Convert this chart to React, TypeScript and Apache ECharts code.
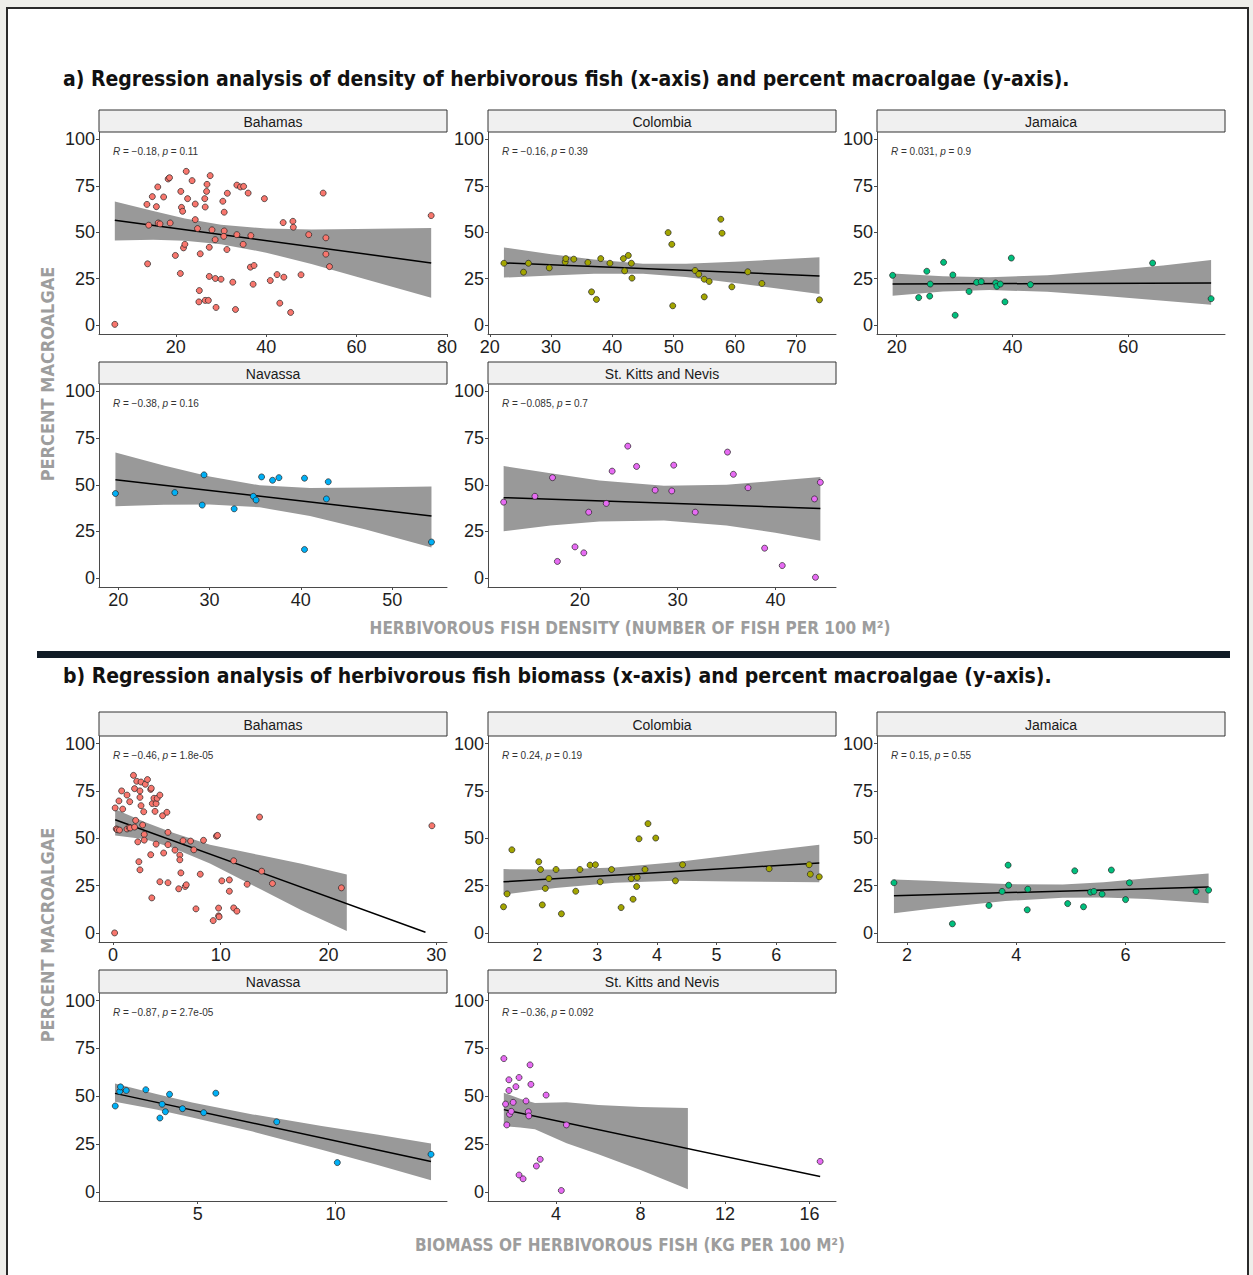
import React, { useEffect, useRef } from "react";
import * as echarts from "echarts";

const W = 1253;
const H = 1275;

const COUNTRIES = ["Bahamas", "Colombia", "Jamaica", "Navassa", "St. Kitts and Nevis"];
const COLORS = ["#F8766D", "#A3A500", "#00BF7D", "#00B0F6", "#E76BF3"];
const Y_TICKS = [0, 25, 50, 75, 100];
const Y_RANGE = [-4.8, 104];

const TITLE_A = "a) Regression analysis of density of herbivorous fish (x-axis) and percent macroalgae (y-axis).";
const TITLE_B = "b) Regression analysis of herbivorous fish biomass (x-axis) and percent macroalgae (y-axis).";
const XTITLE_A = "HERBIVOROUS FISH DENSITY (NUMBER OF FISH PER 100 M²)";
const XTITLE_B = "BIOMASS OF HERBIVOROUS FISH (KG PER 100 M²)";
const YTITLE = "PERCENT MACROALGAE";

// ---------- a) density ----------
const aBahamas = [[6.5,0.4],[13.6,65],[14.0,53.8],[13.75,33],[14.8,69.2],[16.0,74.4],[15.7,63.8],[16.1,55],[16.5,54.5],[17.3,69],[18.3,78.7],[18.6,79.4],[18.75,55],[19.9,37.5],[21.0,27.8],[21.1,72],[21.25,63.4],[21.5,61.3],[21.7,41.6],[22.0,43.5],[22.3,82.8],[22.6,68.1],[23.6,77.8],[24.3,65.2],[24.3,56.8],[24.8,52],[25.4,38.4],[25.2,18.6],[25.1,12.5],[26.5,13.3],[27.2,13.3],[26.4,68.1],[26.5,63.6],[26.8,72],[26.9,75.8],[27.4,41.9],[27.4,26.2],[27.6,80.5],[28.0,51.3],[28.7,46],[28.75,25.1],[28.9,9.5],[30.0,24.7],[30.4,66.7],[30.7,60.8],[30.7,50.7],[30.6,47.8],[31.4,71],[31.3,40.7],[32.6,23.1],[33.2,8.4],[33.5,75.4],[33.5,48.7],[34.3,74.4],[35.0,74.7],[34.9,43.5],[36.0,71.1],[36.5,31.2],[36.6,48.2],[37.3,32.1],[37.1,22],[39.6,68.1],[40.9,24],[42.4,27.2],[43.0,11.8],[43.75,55.2],[43.9,25.8],[45.4,6.8],[45.9,55.9],[46.0,52.7],[47.7,27.1],[49.4,48.7],[52.6,71.1],[53.2,47],[53.2,38.2],[54.0,31.5],[76.5,59]];
const aColombia = [[22.3,33.3],[25.5,28.5],[26.3,33.3],[29.7,30.8],[32.3,34],[32.4,35.8],[33.7,35.5],[36,33.7],[36.6,17.9],[37.4,13.8],[38.1,35.8],[39.6,33.3],[41.8,35.8],[42,29.2],[42.6,37.5],[43.1,33.3],[43.2,25.3],[49.1,49.8],[49.7,43.5],[49.85,10.4],[53.5,29.4],[54.1,27.4],[55,24.7],[55,15.2],[55.8,23.5],[57.7,57],[57.9,49.5],[59.5,20.6],[62.1,28.7],[64.4,22.4],[73.8,13.6]];
const aJamaica = [[19.3,26.8],[23.8,14.8],[25.2,29],[25.8,22.1],[25.7,15.6],[28.1,33.8],[29.7,27.0],[30.1,5.3],[32.5,18.1],[33.8,23.0],[34.6,23.4],[37.1,22.7],[37.3,20.9],[37.9,22.1],[38.7,12.5],[39.8,36.1],[43.1,21.8],[64.2,33.4],[74.3,14.2]];
const aNavassa = [[19.7,45.3],[26.2,45.8],[29.4,55.3],[29.2,39.1],[32.7,37.1],[34.8,43.8],[35.1,41.8],[35.7,54.2],[36.9,52.4],[37.6,53.8],[40.4,53.5],[40.4,15.3],[42.8,42.4],[43.0,51.6],[54.3,19.3]];
const aStKitts = [[12.2,40.7],[15.4,43.8],[17.2,53.8],[17.7,8.9],[19.5,16.7],[20.4,13.5],[20.9,35.3],[22.7,40.0],[23.3,57.3],[24.9,70.7],[25.8,59.8],[27.7,47.1],[29.4,46.7],[29.6,60.5],[31.8,35.3],[35.1,67.5],[35.7,55.6],[37.2,48.4],[38.9,16.0],[40.7,6.7],[44.0,42.4],[44.1,0.4],[44.6,51.3]];

const aBahamasLine = [[6.5,56.5],[76.5,33.5]];
const aColombiaLine = [[22.3,33.5],[73.8,26.5]];
const aJamaicaLine = [[19.3,22.1],[74.3,22.7]];
const aNavassaLine = [[19.7,52.7],[54.3,33.3]];
const aStKittsLine = [[12.2,43.1],[44.6,37.3]];

// [x, lower, upper]
const aBahamasBand = [[6.5,45.5,66.5],[15,45.9,61.5],[22,45.4,57.4],[30,43.6,54.0],[40,39.0,52.0],[50,32.9,51.5],[60,26.1,51.7],[76.5,14.7,52.3]];
const aColombiaBand = [[22.3,25.6,41.8],[30,26.7,38.2],[37,27.7,35.3],[45,27.7,33.1],[52,25.9,33.1],[60,22.7,34.1],[73.8,16.8,36.6]];
const aJamaicaBand = [[19.3,15.8,27.8],[28,18.1,26.3],[36,18.9,25.7],[46,17.9,26.9],[56,15.7,29.3],[66,13.1,32.1],[74.3,10.9,35.0]];
const aNavassaBand = [[19.7,38.5,67.3],[25,39.3,60.3],[30,39.4,54.4],[35.5,37.9,49.7],[41,33.2,48.2],[47,26.1,48.5],[54.3,16.4,49.1]];
const aStKittsBand = [[12.2,25.1,60.0],[17,28.2,56.2],[22,30.3,52.3],[28.6,30.9,49.5],[35,28.2,50.0],[40,24.3,52.1],[44.6,20.0,54.2]];

const aRanges = [[3.0,80],[19.7,76.5],[16.6,76.7],[17.9,56.0],[10.6,46.2]];
const aTicks = [[20,40,60,80],[20,30,40,50,60,70],[20,40,60],[20,30,40,50],[20,30,40]];
const aStats = [["−0.18","0.11"],["−0.16","0.39"],["0.031","0.9"],["−0.38","0.16"],["−0.085","0.7"]];

// ---------- b) biomass ----------
const bBahamas = [[0.15,0],[0.2,66.0],[0.3,54.9],[0.4,54.5],[0.55,69.7],[0.6,54.3],[0.8,75.0],[0.9,65.4],[1.3,72.8],[1.3,54.9],[1.5,55.6],[1.55,69.3],[1.6,55.4],[1.9,83.2],[2.0,76.2],[2.1,59.4],[2.0,55.9],[2.2,80.1],[2.3,48.1],[2.4,37.6],[2.5,75.0],[2.5,71.6],[2.5,33.3],[2.6,79.7],[2.6,67.2],[2.75,57.0],[2.85,64.0],[2.9,52.0],[2.9,49.0],[3.0,78.5],[3.2,81.0],[3.5,41.3],[3.5,75.8],[3.55,76.4],[3.65,68.3],[3.6,18.5],[3.8,71.1],[3.9,64.2],[4.0,68.3],[4.0,46.9],[4.1,71.1],[4.35,72.8],[4.35,27.0],[4.6,61.9],[4.7,42.2],[5.0,63.7],[5.1,46.6],[5.1,53.1],[5.1,26.5],[5.75,43.7],[6.1,23.3],[6.2,41.1],[6.2,38.6],[6.3,31.7],[6.5,48.7],[6.7,24.5],[6.8,25.4],[7.2,48.5],[7.5,43.9],[7.7,12.7],[8.1,31.0],[8.4,48.9],[9.3,6.5],[9.6,51.1],[9.7,51.5],[9.8,13.1],[9.8,9.0],[9.85,8.5],[10.1,27.5],[10.8,22.0],[10.8,28.0],[11.2,38.1],[11.2,13.2],[11.5,11.5],[12.45,25.7],[13.6,61.2],[13.8,32.6],[14.8,26.1],[21.2,23.8],[29.6,56.6]];
const bColombia = [[1.43,13.8],[1.49,20.6],[1.57,43.9],[2.02,37.6],[2.05,33.5],[2.08,14.8],[2.13,23.5],[2.19,28.7],[2.31,33.5],[2.40,10.1],[2.64,22.0],[2.71,33.5],[2.88,35.8],[2.97,36.0],[3.05,27],[3.24,33.5],[3.40,13.4],[3.57,28.7],[3.60,17.8],[3.66,24.5],[3.67,29.3],[3.70,49.7],[3.80,33.5],[3.85,57.7],[3.98,50.1],[4.31,27.5],[4.43,36.0],[5.88,33.9],[6.55,36.0],[6.57,31.0],[6.72,29.6]];
const bJamaica = [[1.76,26.5],[2.83,4.8],[3.50,14.5],[3.74,21.9],[3.85,35.8],[3.86,25.2],[4.21,23.1],[4.20,12.2],[4.94,15.5],[5.07,32.8],[5.23,13.8],[5.36,21.5],[5.42,21.9],[5.57,20.5],[5.74,33.2],[6.0,17.6],[6.07,26.5],[7.29,21.9],[7.52,22.6]];
const bNavassa = [[2.01,44.9],[2.17,52.5],[2.20,54.9],[2.41,53.0],[3.12,53.4],[3.63,38.6],[3.71,45.8],[3.83,41.9],[3.98,51.0],[4.45,43.5],[5.22,41.4],[5.66,51.6],[7.87,36.6],[10.07,15.3],[13.47,19.6]];
const bStKitts = [[1.53,69.7],[1.61,45.9],[1.67,35.0],[1.77,58.6],[1.77,53.0],[1.80,40.6],[1.88,42.1],[1.97,46.8],[2.10,55.0],[2.25,59.8],[2.25,8.8],[2.44,6.8],[2.58,47.5],[2.69,41.9],[2.71,39.7],[2.77,66.4],[2.81,56.2],[3.07,13.5],[3.25,17.0],[3.53,50.6],[4.25,0.7],[4.49,35.0],[16.5,15.9]];

const bBahamasLine = [[0.2,59.8],[29.0,0.35]];
const bColombiaLine = [[1.43,27.0],[6.72,36.9]];
const bJamaicaLine = [[1.76,19.6],[7.52,24.2]];
const bNavassaLine = [[2.0,51.5],[13.47,15.9]];
const bStKittsLine = [[1.53,43.0],[16.5,8.0]];

const bBahamasBand = [[0.2,51.5,65.3],[3,49.5,58.5],[5.5,45,53],[9,36.7,46.5],[13.7,23,41],[17.5,12,36.5],[21.7,1,30.9]];
const bColombiaBand = [[1.43,20.3,33.7],[2.3,23.7,33.5],[3.3,26.5,34.5],[4.3,27.5,37.3],[5.3,27.2,41.2],[6.72,26.8,46.6]];
const bJamaicaBand = [[1.76,10.4,28.2],[2.4,12.6,27.6],[3,14.5,26.7],[3.8,16.8,25.8],[4.85,18.6,25.6],[5.6,18.7,26.7],[6.4,17.9,28.9],[7.52,15.7,31.4]];
const bNavassaBand = [[2.0,47.1,56.7],[3.5,43.0,51.2],[4.8,38.9,46.7],[7,31.5,40.5],[9.5,22,34.4],[11.5,14.2,30.0],[13.47,6.1,25.3]];
const bStKittsBand = [[1.53,34.3,51.8],[2.3,33.7,48.7],[3,32.7,46.5],[4.5,25.4,46.8],[6,19.6,45.4],[8,11.4,44.4],[10.24,1.4,43.8]];

const bRanges = [[-1.3,31.0],[1.17,7.0],[1.45,7.82],[1.42,14.05],[0.78,17.25]];
const bTicks = [[0,10,20,30],[2,3,4,5,6],[2,4,6],[5,10],[4,8,12,16]];
const bStats = [["−0.46","1.8e-05"],["0.24","0.19"],["0.15","0.55"],["−0.87","2.7e-05"],["−0.36","0.092"]];

// ---------- layout ----------
const COL_LEFT = [99, 488, 877];
const COL_W = 348;
const ROWS = [
  { top: 132, h: 202, stripTop: 110, stripH: 22 },
  { top: 384, h: 203, stripTop: 362, stripH: 22 },
  { top: 736, h: 206, stripTop: 712, stripH: 24 },
  { top: 993, h: 208, stripTop: 970, stripH: 23 },
];
const CELL = [[0, 0], [0, 1], [0, 2], [1, 0], [1, 1]];

const TICK_FONT = "'Liberation Sans', Arial, sans-serif";
const NARROW = "'DejaVu Sans Condensed', sans-serif";

function buildPanels() {
  const aPts = [aBahamas, aColombia, aJamaica, aNavassa, aStKitts];
  const aLines = [aBahamasLine, aColombiaLine, aJamaicaLine, aNavassaLine, aStKittsLine];
  const aBands = [aBahamasBand, aColombiaBand, aJamaicaBand, aNavassaBand, aStKittsBand];
  const bPts = [bBahamas, bColombia, bJamaica, bNavassa, bStKitts];
  const bLines = [bBahamasLine, bColombiaLine, bJamaicaLine, bNavassaLine, bStKittsLine];
  const bBands = [bBahamasBand, bColombiaBand, bJamaicaBand, bNavassaBand, bStKittsBand];
  const panels: any[] = [];
  for (let s = 0; s < 2; s++) {
    for (let i = 0; i < 5; i++) {
      const [r, c] = CELL[i];
      panels.push({
        name: COUNTRIES[i],
        color: COLORS[i],
        pts: s === 0 ? aPts[i] : bPts[i],
        line: s === 0 ? aLines[i] : bLines[i],
        band: s === 0 ? aBands[i] : bBands[i],
        range: s === 0 ? aRanges[i] : bRanges[i],
        ticks: s === 0 ? aTicks[i] : bTicks[i],
        stat: s === 0 ? aStats[i] : bStats[i],
        row: ROWS[s * 2 + r],
        left: COL_LEFT[c],
      });
    }
  }
  return panels;
}

function App() {
  const ref = useRef<HTMLDivElement>(null);
  useEffect(() => {
    const chart = echarts.init(ref.current as HTMLDivElement, null, { renderer: "svg", width: W, height: H });
    const panels = buildPanels();
    const grids: any[] = [];
    const xAxes: any[] = [];
    const yAxes: any[] = [];
    const series: any[] = [];
    const graphics: any[] = [];

    graphics.push({ type: "rect", z: -10, shape: { x: 0, y: 0, width: W, height: H }, style: { fill: "#eeeeea" } });
    graphics.push({ type: "rect", z: -9, shape: { x: 7, y: 8, width: 1241, height: H }, style: { fill: "#ffffff", stroke: "#2a2a2a", lineWidth: 2 } });
    graphics.push({ type: "rect", z: 5, shape: { x: 37, y: 651, width: 1193, height: 7 }, style: { fill: "#111c27" } });
    graphics.push({ type: "text", z: 5, x: 63, y: 79, style: { text: TITLE_A, font: `bold 21px ${NARROW}`, fill: "#111111", textAlign: "left", textVerticalAlign: "middle" } });
    graphics.push({ type: "text", z: 5, x: 63, y: 676, style: { text: TITLE_B, font: `bold 21px ${NARROW}`, fill: "#111111", textAlign: "left", textVerticalAlign: "middle" } });
    graphics.push({ type: "text", z: 5, x: 630, y: 628, style: { text: XTITLE_A, font: `bold 17px ${NARROW}`, fill: "#9d9d9d", textAlign: "center", textVerticalAlign: "middle" } });
    graphics.push({ type: "text", z: 5, x: 630, y: 1245, style: { text: XTITLE_B, font: `bold 17px ${NARROW}`, fill: "#9d9d9d", textAlign: "center", textVerticalAlign: "middle" } });
    graphics.push({ type: "text", z: 5, x: 47, y: 374, rotation: Math.PI / 2, style: { text: YTITLE, font: `bold 18px ${NARROW}`, fill: "#9d9d9d", textAlign: "center", textVerticalAlign: "middle" } });
    graphics.push({ type: "text", z: 5, x: 47, y: 935, rotation: Math.PI / 2, style: { text: YTITLE, font: `bold 18px ${NARROW}`, fill: "#9d9d9d", textAlign: "center", textVerticalAlign: "middle" } });

    panels.forEach((p, i) => {
      grids.push({ left: p.left, top: p.row.top, width: COL_W, height: p.row.h });
      xAxes.push({
        type: "value", gridIndex: i, min: p.range[0], max: p.range[1],
        splitLine: { show: false },
        axisLine: { show: true, onZero: false, lineStyle: { color: "#4a4a4a", width: 1 } },
        axisTick: { show: true, length: 3, customValues: p.ticks, lineStyle: { color: "#4a4a4a" } },
        axisLabel: { customValues: p.ticks, fontSize: 18, color: "#1e1e1e", fontFamily: TICK_FONT, margin: 4 },
      });
      yAxes.push({
        type: "value", gridIndex: i, min: Y_RANGE[0], max: Y_RANGE[1],
        splitLine: { show: false },
        axisLine: { show: true, onZero: false, lineStyle: { color: "#4a4a4a", width: 1 } },
        axisTick: { show: true, length: 3, customValues: Y_TICKS, lineStyle: { color: "#4a4a4a" } },
        axisLabel: { customValues: Y_TICKS, fontSize: 18, color: "#1e1e1e", fontFamily: TICK_FONT, margin: 4 },
      });
      const band = p.band;
      series.push({
        type: "custom", xAxisIndex: i, yAxisIndex: i, silent: true, z: 1, clip: true,
        data: [[band[0][0], band[0][1]]],
        renderItem: (_params: any, api: any) => {
          const up = band.map((d: number[]) => api.coord([d[0], d[2]]));
          const lo = band.slice().reverse().map((d: number[]) => api.coord([d[0], d[1]]));
          return { type: "polygon", shape: { points: up.concat(lo) }, style: { fill: "#999999" } };
        },
      });
      series.push({
        type: "line", xAxisIndex: i, yAxisIndex: i, data: p.line, showSymbol: false, silent: true, z: 2,
        lineStyle: { color: "#000000", width: 1.5 },
      });
      series.push({
        type: "scatter", xAxisIndex: i, yAxisIndex: i, data: p.pts, symbolSize: 6, z: 3,
        itemStyle: { color: p.color, borderColor: "#222222", borderWidth: 0.7, opacity: 1 },
      });
      graphics.push({ type: "rect", z: 4, shape: { x: p.left, y: p.row.stripTop, width: COL_W, height: p.row.stripH }, style: { fill: "#f0f0f0", stroke: "#333333", lineWidth: 1 } });
      graphics.push({ type: "text", z: 5, x: p.left + COL_W / 2, y: p.row.stripTop + p.row.stripH / 2 + 0.5, style: { text: p.name, font: `14px ${TICK_FONT}`, fill: "#1a1a1a", textAlign: "center", textVerticalAlign: "middle" } });
      graphics.push({
        type: "text", z: 5, x: p.left + 14, y: p.row.top + 19,
        style: {
          text: `{i|R} = ${p.stat[0]}, {i|p} = ${p.stat[1]}`,
          fontSize: 10, fontFamily: TICK_FONT, fill: "#333333", textAlign: "left", textVerticalAlign: "middle",
          rich: { i: { fontStyle: "italic", fontSize: 10, fontFamily: TICK_FONT, fill: "#333333" } },
        },
      });
    });

    chart.setOption({
      animation: false,
      backgroundColor: "#ffffff",
      grid: grids,
      xAxis: xAxes,
      yAxis: yAxes,
      series,
      graphic: { elements: graphics },
    });
    return () => chart.dispose();
  }, []);
  return <div ref={ref} style={{ position: "absolute", left: 0, top: 0, width: W, height: H }} />;
}

export default App;
